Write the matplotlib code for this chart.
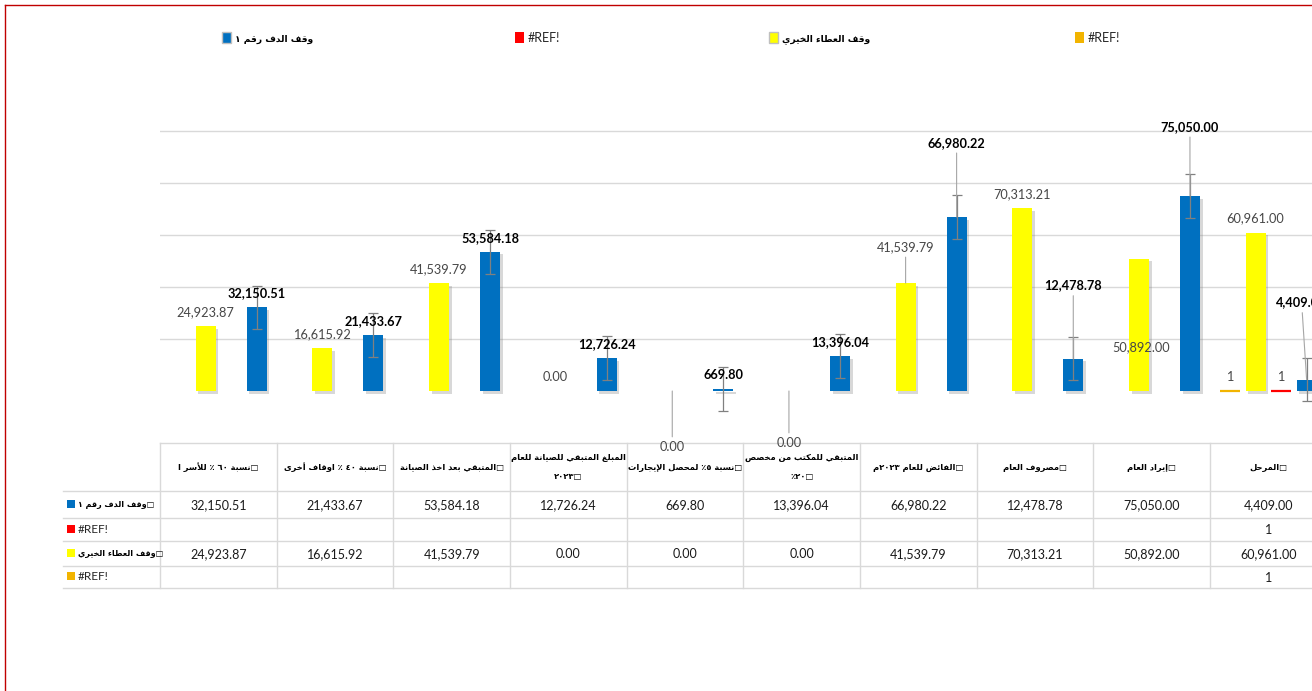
import matplotlib
matplotlib.use('Agg')
import matplotlib.pyplot as plt
import matplotlib.patheffects as pe
from matplotlib.patches import Rectangle
import numpy as np

plt.rcParams['font.family'] = ['Lato', 'DejaVu Sans']

# ---- data (Excel order; the category axis is drawn right-to-left) ----
categories = ['□المرحل', '□إيراد العام', '□مصروف العام', '□الفائض للعام ٢٠٢٣م',
              'المتبقي للمكتب من مخصص\n□٢٠٪', '□نسبة ٥٪ لمحصل الإيجارات',
              'المبلغ المتبقي للصيانة للعام\n□٢٠٢٣', '□المتبقي بعد اخذ الصيانة',
              '□نسبة ٤٠ ٪ اوقاف أخرى', '□نسبة ٦٠ ٪ للأسر ا']
series_names = ['□وقف الدف رقم ١', '#REF!', '□وقف العطاء الخيري', '#REF!']
blue = [4409.00, 75050.00, 12478.78, 66980.22, 13396.04, 669.80, 12726.24, 53584.18, 21433.67, 32150.51]
red = [1, None, None, None, None, None, None, None, None, None]
yellow = [60961.00, 50892.00, 70313.21, 41539.79, 0.00, 0.00, 0.00, 41539.79, 16615.92, 24923.87]
orange = [1, None, None, None, None, None, None, None, None, None]
blue_err = 8400

colors = ['#0070C0', '#FF0000', '#FFFF00', '#F2B400']

# ---- a small Arabic shaper (presentation forms + right-to-left order) ----
_letters = [('ء', 1), ('آ', 2), ('أ', 2), ('ؤ', 2), ('إ', 2), ('ئ', 4), ('ا', 2), ('ب', 4), ('ة', 2),
            ('ت', 4), ('ث', 4), ('ج', 4), ('ح', 4), ('خ', 4), ('د', 2), ('ذ', 2), ('ر', 2), ('ز', 2),
            ('س', 4), ('ش', 4), ('ص', 4), ('ض', 4), ('ط', 4), ('ظ', 4), ('ع', 4), ('غ', 4), ('ف', 4),
            ('ق', 4), ('ك', 4), ('ل', 4), ('م', 4), ('ن', 4), ('ه', 4), ('و', 2), ('ى', 2), ('ي', 4)]
FORMS = {}
code = 0xFE80
for ch, n in _letters:
    FORMS[ch] = [chr(code + k) for k in range(n)]
    code += n
LAM_ALEF = {'آ': 0xFEF5, 'أ': 0xFEF7, 'إ': 0xFEF9, 'ا': 0xFEFB}
LTR_CHARS = set('0123456789٠١٢٣٤٥٦٧٨٩ABCDEFGHIJKLMNOPQRSTUVWXYZabcdefghijklmnopqrstuvwxyz#!.,')


def shape(s):
    units = []
    i = 0
    while i < len(s):
        if s[i] == 'ل' and i + 1 < len(s) and s[i + 1] in LAM_ALEF:
            units.append(('LA', s[i + 1]))
            i += 2
        else:
            units.append(('C', s[i]))
            i += 1

    def joining(u):
        return u[0] == 'LA' or (u[1] in FORMS and u[1] != 'ء')

    def dual(u):
        return u[0] == 'C' and u[1] in FORMS and len(FORMS[u[1]]) == 4

    out = []
    for j, u in enumerate(units):
        prev = j > 0 and dual(units[j - 1]) and joining(u)
        nxt = j + 1 < len(units) and dual(u) and joining(units[j + 1])
        if u[0] == 'LA':
            out.append(chr(LAM_ALEF[u[1]] + (1 if prev else 0)))
        elif u[1] in FORMS:
            f = FORMS[u[1]]
            if len(f) == 1:
                out.append(f[0])
            elif len(f) == 2:
                out.append(f[1] if prev else f[0])
            else:
                out.append(f[(3 if nxt else 1) if prev else (2 if nxt else 0)])
        else:
            out.append(u[1])
    return ''.join(out)


def ar(text):
    lines = []
    for line in text.split('\n'):
        runs = []
        for ch in shape(line):
            ltr = ch in LTR_CHARS
            if runs and runs[-1][0] == ltr:
                runs[-1][1].append(ch)
            else:
                runs.append([ltr, [ch]])
        lines.append(''.join(''.join(c) if l else ''.join(reversed(c)) for l, c in reversed(runs)))
    return '\n'.join(lines)


# ---- figure ----
W, H = 1312, 691
fig = plt.figure(figsize=(W / 100, H / 100), dpi=100)
bg = fig.add_axes([0, 0, 1, 1])
bg.set_xlim(0, W)
bg.set_ylim(H, 0)
bg.axis('off')

ax = fig.add_axes([160 / W, (H - 443) / H, 1166.7 / W, 364 / H])
ax.patch.set_alpha(0)
x = np.arange(len(categories))
ax.set_xlim(len(categories) - 0.5, -0.5)
ax.set_ylim(-20000, 120000)
ax.set_yticks([20000, 40000, 60000, 80000, 100000])
ax.yaxis.grid(True, color='#D9D9D9', lw=1)
ax.set_axisbelow(True)
ax.tick_params(length=0, labelleft=False, labelbottom=False)
ax.set_xticks([])
for s in ax.spines.values():
    s.set_visible(False)

slot = 0.2186
bw = 0.171
shadow = [pe.SimplePatchShadow(offset=(2, -2), shadow_rgbFace='#808080', alpha=0.3), pe.Normal()]
all_series = [blue, red, yellow, orange]
keys = ['blue', 'red', 'yellow', 'orange']

# label offsets in pixels (dx, dy above bar top), with leader line
label_pos = {
    ('yellow', 3): (0, 36, True),
    ('blue', 3): (0, 74, True),
    ('blue', 2): (0, 73, True),
    ('blue', 1): (0, 69, True),
    ('blue', 0): (-5, 77, True),
    ('yellow', 1): (2, -88, False),
    ('yellow', 5): (0, -56, True),
    ('yellow', 4): (0, -52, True),
}

for k, (key, vals, col) in enumerate(zip(keys, all_series, colors)):
    xs = x + (k - 1.5) * slot
    v = np.array([np.nan if a is None else a for a in vals], dtype=float)
    if key in ('red', 'orange'):
        ax.bar(xs, v, bw, color=col, edgecolor=col, lw=1.6, zorder=2)
    else:
        bars = ax.bar(xs, v, bw, color=col, lw=0, zorder=2)
        for b in bars:
            b.set_path_effects(shadow)
    if key == 'blue':
        ax.errorbar(xs, v, yerr=blue_err, fmt='none', ecolor='#808080', elinewidth=0.9,
                    capsize=3.5, capthick=0.9, zorder=3)
    for i, a in enumerate(vals):
        if a is None:
            continue
        txt = '{:,.2f}'.format(a) if key in ('blue', 'yellow') else '{:d}'.format(a)
        dx, dy, leader = label_pos.get((key, i), (0, 14, False))
        kw = dict(fontsize=9.2, ha='center', va='center', zorder=6, annotation_clip=False)
        if key == 'blue':
            kw.update(color='black', fontweight='bold')
        else:
            kw.update(color='#474747')
        if leader:
            kw['arrowprops'] = dict(arrowstyle='-', color='#A6A6A6', lw=0.8, shrinkA=1, shrinkB=0)
        ax.annotate(txt, xy=(xs[i], a), xytext=(dx * 0.72, dy * 0.72), textcoords='offset points', **kw)

# ---- data table under the chart ----
cx = [ax.transData.transform((i, 0))[0] for i in x]
edges = [ax.transData.transform((i + 0.5, 0))[0] for i in x] + [ax.transData.transform((-0.5, 0))[0]]
rows_y = [443, 491, 518, 541, 566, 588]
grid_c = '#D9D9D9'
bg.plot([min(edges), W], [rows_y[0], rows_y[0]], color=grid_c, lw=1)
for yy in rows_y[1:]:
    bg.plot([63, W], [yy, yy], color=grid_c, lw=1)
for ex in edges:
    bg.plot([ex, ex], [rows_y[0], rows_y[-1]], color=grid_c, lw=1)

for i, c in enumerate(categories):
    bg.text(cx[i], 467, ar(c), ha='center', va='center', fontsize=6, fontweight='bold',
            family='DejaVu Sans', linespacing=2.5, color='black')

for r, (name, vals, col) in enumerate(zip(series_names, all_series, colors)):
    yc = (rows_y[r + 1] + rows_y[r + 2]) / 2
    bg.add_patch(Rectangle((67, yc - 5), 8, 8, facecolor=col, edgecolor='none'))
    if name.startswith('#'):
        bg.text(78, yc, name, ha='left', va='center', fontsize=8.5, color='#262626')
    else:
        bg.text(78, yc, ar(name), ha='left', va='center', fontsize=5.8, fontweight='bold',
                family='DejaVu Sans', color='black')
    for i, a in enumerate(vals):
        if a is None:
            continue
        txt = '{:,.2f}'.format(a) if isinstance(a, float) else str(a)
        bg.text(cx[i], yc + 1, txt, ha='center', va='center', fontsize=9, color='#1a1a1a')

# ---- legend across the top ----
legend_x = [222, 515, 769, 1075]
for name, col, lx in zip(series_names, colors, legend_x):
    outline = '#BFBFBF' if not name.startswith('#') else 'none'
    bg.add_patch(Rectangle((lx, 32), 9, 11, facecolor=col, edgecolor=outline, lw=1))
    if name.startswith('#'):
        bg.text(lx + 13, 38, name, ha='left', va='center', fontsize=9, color='#262626')
    else:
        bg.text(lx + 13, 39, ar(name.replace('□', '')), ha='left', va='center', fontsize=6.6,
                fontweight='bold', family='DejaVu Sans', color='black')

# outer border of the chart object
bg.plot([5, 5], [5, H], color='#C00000', lw=1)
bg.plot([5, W], [5, 5], color='#C00000', lw=1)

fig.savefig('out.png', dpi=100)
